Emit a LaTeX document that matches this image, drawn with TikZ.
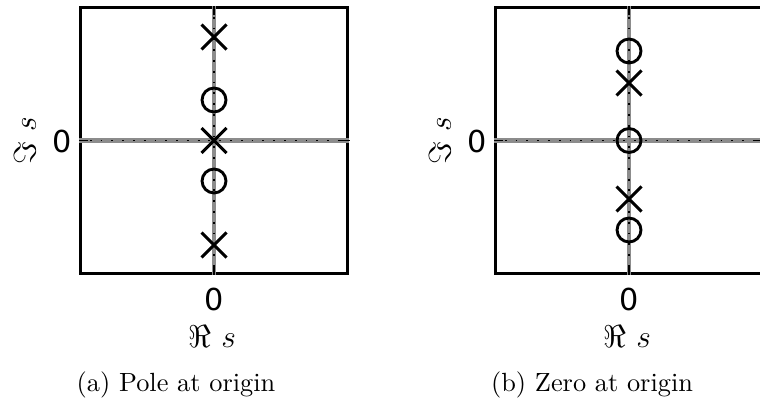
\documentclass[tikz,border=0pt]{standalone}
\usepackage{fontspec}
\newfontfamily\ticksans{DejaVu Sans}
\usetikzlibrary{shapes.misc,positioning}

\begin{document}
\begin{tikzpicture}[x=0.38pt,y=-0.38pt,
  plotbox/.style={rectangle,draw=black,line width=1pt,minimum width=101.6pt,
                  minimum height=101.2pt,inner sep=0pt},
  band/.style={draw=black!45,line width=1.8pt},
  dotline/.style={draw=black,line width=0.7pt,dash pattern=on 0.7pt off 3.4pt},
  endline/.style={draw=black,line width=0.7pt},
  pole/.style={cross out,draw=black,line width=1.1pt,minimum size=8.4pt,inner sep=0pt},
  zero/.style={circle,draw=black,line width=1.1pt,minimum size=9.1pt,inner sep=0pt},
  ticklbl/.style={font=\ticksans\fontsize{11.5}{13}\selectfont,inner sep=0pt},
  axlbl/.style={font=\fontsize{12}{14}\selectfont,inner sep=0pt},
  caplbl/.style={font=\fontsize{10}{12}\selectfont,inner sep=0pt}]
\useasboundingbox (0,0) rectangle (760,402);

% (a) pole at origin
\node[plotbox] (boxa) at (214,140.5) {};
\draw[band] (boxa.north) -- (boxa.south);
\draw[band] (boxa.west) -- (boxa.east);
\draw[dotline] (boxa.north) -- (boxa.south);
\draw[dotline] (boxa.west) -- (boxa.east);
\draw[endline] (boxa.west) -- ++(9,0) (boxa.east) -- ++(-9,0)
               (boxa.north) -- ++(0,9) (boxa.south) -- ++(0,-9);
\node[pole] (a-p1) at (214,37) {};
\node[zero] (a-z1) at (214,100) {};
\node[pole] (a-p0) at (214,140.5) {};
\node[zero] (a-z2) at (214,181) {};
\node[pole] (a-p2) at (214,245) {};
\node[ticklbl] (a-y0) at (62,141) {0};
\node[axlbl,rotate=90] (a-ylab) at (25,141) {$\Im\ s$};
\node[ticklbl] (a-x0) at (214,299) {0};
\node[axlbl] (a-xlab) at (212,337) {$\Re\ s$};
\node[caplbl] (a-cap) at (176,385) {(a) Pole at origin};

% (b) zero at origin
\node[plotbox] (boxb) at (629,140.5) {};
\draw[band] (boxb.north) -- (boxb.south);
\draw[band] (boxb.west) -- (boxb.east);
\draw[dotline] (boxb.north) -- (boxb.south);
\draw[dotline] (boxb.west) -- (boxb.east);
\draw[endline] (boxb.west) -- ++(9,0) (boxb.east) -- ++(-9,0)
               (boxb.north) -- ++(0,9) (boxb.south) -- ++(0,-9);
\node[zero] (b-z1) at (629,51) {};
\node[pole] (b-p1) at (629,83) {};
\node[zero] (b-z0) at (629,140.5) {};
\node[pole] (b-p2) at (629,199) {};
\node[zero] (b-z2) at (629,230) {};
\node[ticklbl] (b-y0) at (477,141) {0};
\node[axlbl,rotate=90] (b-ylab) at (440,141) {$\Im\ s$};
\node[ticklbl] (b-x0) at (629,299) {0};
\node[axlbl] (b-xlab) at (627,337) {$\Re\ s$};
\node[caplbl] (b-cap) at (592,385) {(b) Zero at origin};
\end{tikzpicture}
\end{document}
